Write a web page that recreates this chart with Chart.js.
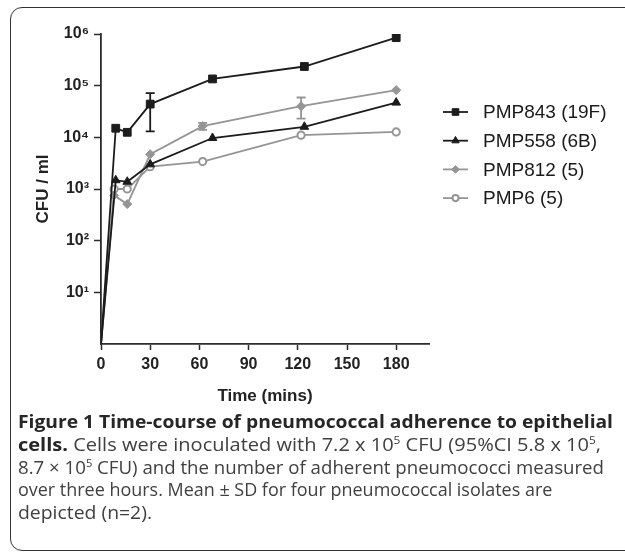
<!DOCTYPE html>
<html>
<head>
<meta charset="utf-8">
<script src="https://cdn.jsdelivr.net/npm/chart.js@4.4.0/dist/chart.umd.min.js"></script>
<style>
  body { margin: 0; background: #fff; width: 625px; height: 557px; overflow: hidden; position: relative; }
  .frame { position: absolute; left: 10px; top: 7px; width: 640px; height: 544px; border: 1.5px solid #333; border-radius: 12px; box-sizing: border-box; }
  #wrap { position: absolute; left: 0; top: 0; width: 625px; height: 410px; }
  .caption { position: absolute; left: 18px; top: 410px; font-family: "Open Sans", sans-serif; font-size: 18.5px; line-height: 22.8px; color: #404040; }
  .caption div { white-space: nowrap; transform-origin: 0 50%; width: max-content; }
  .caption b { color: #262626; }
  .caption sup { font-size: 11px; line-height: 0; vertical-align: 7px; }
</style>
</head>
<body>
<div class="frame"></div>
<div id="wrap"><canvas id="chart" width="625" height="410"></canvas></div>
<div class="caption">
  <div data-w="595"><b>Figure 1 Time-course of pneumococcal adherence to epithelial</b></div>
  <div data-w="583"><b>cells.</b> Cells were inoculated with 7.2 x 10<sup>5</sup> CFU (95%CI 5.8 x 10<sup>5</sup>,</div>
  <div data-w="586">8.7 × 10<sup>5</sup> CFU) and the number of adherent pneumococci measured</div>
  <div data-w="466">over three hours. Mean ± SD for four pneumococcal isolates are</div>
  <div data-w="134">depicted (n=2).</div>
</div>
<script>
// time points (mins)
const timesA = [0, 9, 16, 30, 68, 124, 180];
const timesB = [0, 8, 16, 30, 62, 122, 180];

// CFU / ml per isolate
const pmp843 = [1, 15000, 12500, 44000, 135000, 235000, 850000];
const pmp558 = [1, 1480, 1380, 3000, 9700, 16000, 47000];
const pmp812 = [1, 750, 510, 4700, 16500, 40000, 82000];
const pmp6 = [1, 1000, 1000, 2700, 3400, 11000, 12700];

// error bars (low / high), null where none is drawn
const pmp843Low = [null, null, null, 13000, null, null, null];
const pmp843High = [null, null, null, 72000, null, null, null];
const pmp812Low = [null, null, null, null, 14000, 23000, null];
const pmp812High = [null, null, null, null, 19000, 59000, null];

const seriesNames = ['PMP843 (19F)', 'PMP558 (6B)', 'PMP812 (5)', 'PMP6 (5)'];
const xTicks = [0, 30, 60, 90, 120, 150, 180];
const yTicks = [10, 100, 1000, 10000, 100000, 1000000];
const yTickLabels = ['10\u00B9', '10\u00B2', '10\u00B3', '10\u2074', '10\u2075', '10\u2076'];

const BLACK = '#1c1c1c';
const GRAY = '#959595';
const AXIS = '#2b2b2b';
const FONT = '"Liberation Sans", Arial, sans-serif';

const toPoints = (xs, ys) => xs.map((x, i) => ({ x: x, y: ys[i] }));
const hideFirst = size => ctx => ctx.dataIndex === 0 ? 0 : size;

function series(label, xs, ys, color, style, size, fill, extra) {
    return Object.assign({
        label: label,
        data: toPoints(xs, ys),
        borderColor: color,
        backgroundColor: color,
        borderWidth: 1.8,
        pointStyle: style,
        pointRadius: hideFirst(size),
        pointBackgroundColor: fill,
        pointBorderColor: color,
        pointBorderWidth: 1,
        tension: 0
    }, extra || {});
}

const datasets = [
    series(seriesNames[0], timesA, pmp843, BLACK, 'rect', 5.5, BLACK, { errLow: pmp843Low, errHigh: pmp843High }),
    series(seriesNames[1], timesA, pmp558, BLACK, 'triangle', 5, BLACK),
    series(seriesNames[2], timesB, pmp812, GRAY, 'rectRot', 4.5, GRAY, { errLow: pmp812Low, errHigh: pmp812High }),
    series(seriesNames[3], timesB, pmp6, GRAY, 'circle', 3.6, '#fff', { pointBorderWidth: 2 })
];

// vertical SD bars with caps
const errorBars = {
    id: 'errorBars',
    afterDatasetsDraw(chart) {
        const { ctx, scales: { x, y } } = chart;
        chart.data.datasets.forEach(ds => {
            if (!ds.errLow) return;
            ctx.save();
            ctx.strokeStyle = ds.borderColor;
            ctx.lineWidth = 1.8;
            ds.data.forEach((p, i) => {
                if (ds.errLow[i] == null) return;
                const px = x.getPixelForValue(p.x);
                const lo = y.getPixelForValue(ds.errLow[i]);
                const hi = y.getPixelForValue(ds.errHigh[i]);
                ctx.beginPath();
                ctx.moveTo(px, lo); ctx.lineTo(px, hi);
                ctx.moveTo(px - 4.5, lo); ctx.lineTo(px + 4.5, lo);
                ctx.moveTo(px - 4.5, hi); ctx.lineTo(px + 4.5, hi);
                ctx.stroke();
            });
            ctx.restore();
        });
    }
};

// legend to the right of the plot: short line with marker, then name
const sideLegend = {
    id: 'sideLegend',
    afterDraw(chart) {
        const { ctx, chartArea } = chart;
        const x0 = chartArea.right + 14;
        ctx.save();
        chart.data.datasets.forEach((ds, i) => {
            const y = chartArea.top + 78 + i * 28.7;
            ctx.strokeStyle = ds.borderColor;
            ctx.lineWidth = 1.8;
            ctx.beginPath();
            ctx.moveTo(x0, y); ctx.lineTo(x0 + 25, y);
            ctx.stroke();
            ctx.fillStyle = ds.pointBackgroundColor;
            ctx.strokeStyle = ds.pointBorderColor;
            ctx.lineWidth = ds.pointBorderWidth;
            const r = ds.pointRadius({ dataIndex: 1 }) * 0.85;
            Chart.helpers.drawPoint(ctx, { pointStyle: ds.pointStyle, radius: r, rotation: 0, borderWidth: ds.pointBorderWidth }, x0 + 12.5, y);
            ctx.fillStyle = '#1a1a1a';
            ctx.font = '19px ' + FONT;
            ctx.textBaseline = 'middle';
            ctx.fillText(ds.label, x0 + 40, y + 1);
        });
        ctx.restore();
    }
};

new Chart(document.getElementById('chart'), {
    type: 'line',
    data: { datasets: datasets },
    options: {
        responsive: false,
        animation: false,
        events: [],
        layout: { padding: { top: 34, right: 196, bottom: 0, left: 0 } },
        plugins: { legend: { display: false }, tooltip: { enabled: false } },
        scales: {
            x: {
                type: 'linear',
                min: 0,
                max: 200,
                afterBuildTicks: scale => { scale.ticks = xTicks.map(v => ({ value: v })); },
                afterFit: scale => { scale.height = 66; },
                grid: { drawOnChartArea: false, tickLength: 6, tickColor: AXIS, tickWidth: 1.5 },
                border: { color: AXIS, width: 1.8 },
                ticks: { color: '#222', padding: 5, autoSkip: false, maxRotation: 0, font: { family: FONT, size: 16, weight: 'bold' } },
                title: { display: true, text: 'Time (mins)', color: '#222', padding: { top: 0, bottom: 3 }, font: { family: FONT, size: 17, weight: 'bold' } }
            },
            y: {
                type: 'logarithmic',
                min: 1,
                max: 1000000,
                afterBuildTicks: scale => { scale.ticks = yTicks.map(v => ({ value: v })); },
                afterFit: scale => { scale.width = 101; },
                grid: { drawOnChartArea: false, tickLength: 7, tickColor: AXIS, tickWidth: 1.5 },
                border: { color: AXIS, width: 1.8 },
                ticks: {
                    color: '#222', padding: 5, autoSkip: false,
                    font: { family: FONT, size: 16, weight: 'bold' },
                    callback: v => yTickLabels[yTicks.indexOf(v)] || ''
                },
                title: { display: true, text: 'CFU / ml', color: '#222', padding: { top: 33, bottom: 0 }, font: { family: FONT, size: 17, weight: 'bold' } }
            }
        }
    },
    plugins: [errorBars, sideLegend]
});

// caption: one squeeze taken from the regular lines, each line may
// deviate from it only a little so the letters keep the same look
const lines = Array.from(document.querySelectorAll('.caption div'));
const widthOf = l => l.getBoundingClientRect().width;
const squeeze = (Number(lines[1].dataset.w) + Number(lines[2].dataset.w)) / (widthOf(lines[1]) + widthOf(lines[2]));
lines.forEach((l, i) => {
    let s = Number(l.dataset.w) / widthOf(l);
    if (i > 0) s = Math.max(squeeze * 0.93, Math.min(squeeze * 1.05, s));
    l.style.transform = 'scaleX(' + s + ')';
});
</script>
</body>
</html>
